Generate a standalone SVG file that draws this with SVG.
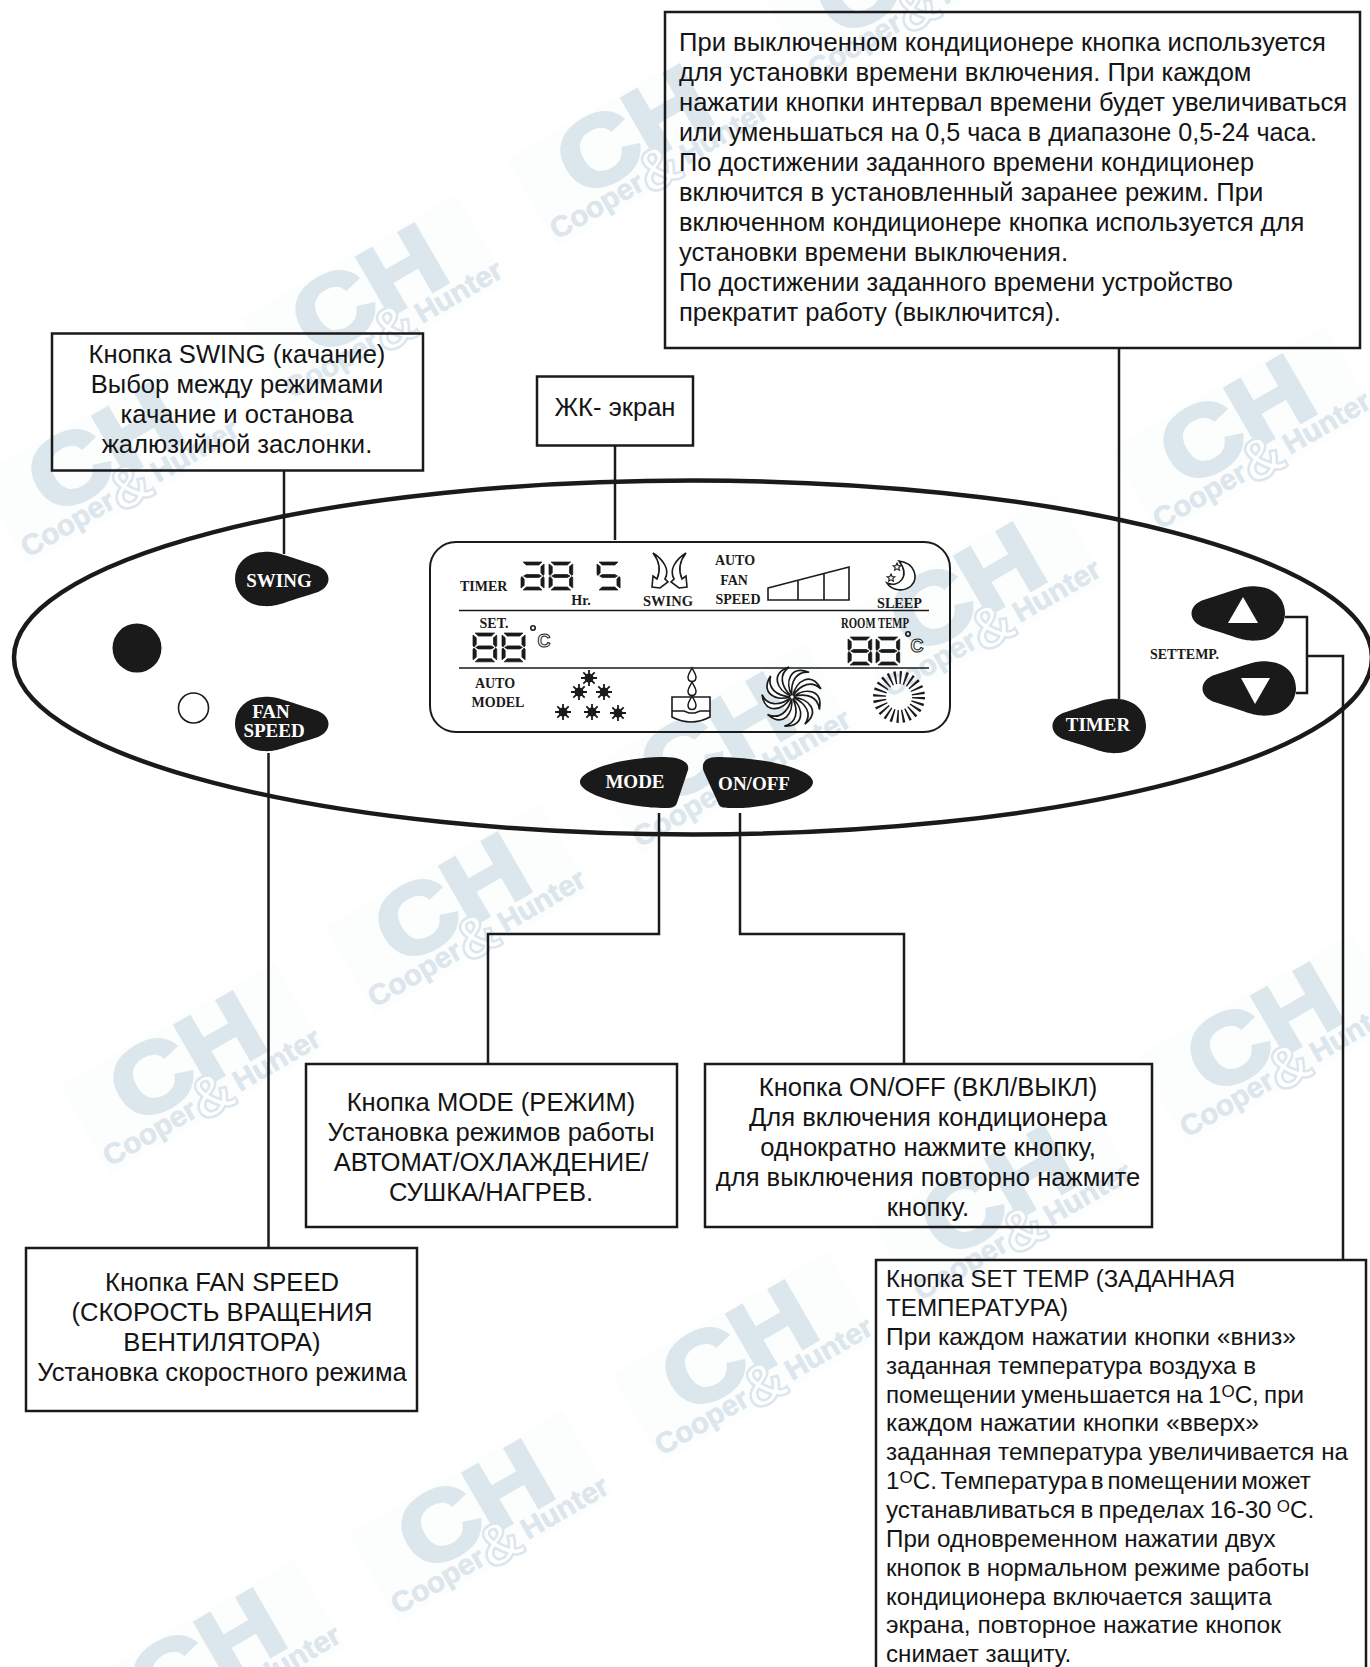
<svg xmlns="http://www.w3.org/2000/svg" width="1370" height="1667" viewBox="0 0 1370 1667">
<style>
.t{font-family:"Liberation Sans",Arial,sans-serif;font-size:25.6px;fill:#141414}
.s{font-size:24.2px}
.c{text-anchor:middle}
.box{fill:none;stroke:#1a1a1a;stroke-width:2.5}
.ln{fill:none;stroke:#1a1a1a;stroke-width:2.5}
.b{font-family:"Liberation Serif","Times New Roman",serif;font-weight:bold;fill:#1a1a1a;font-size:14px}
.w{font-family:"Liberation Serif","Times New Roman",serif;font-weight:bold;fill:#fff;font-size:19px;text-anchor:middle}
.btn{fill:#1a1a1a}
.thin{fill:none;stroke:#1a1a1a;stroke-width:1.6}
.wm{font-family:"Liberation Sans",Arial,sans-serif;font-weight:bold;fill:#dce6ed;stroke:#dce6ed}
</style>
<defs>
<g id="wmk">
<rect x="-3" y="-95" width="248" height="101" fill="#fcfdfd"/>
<text class="wm" x="41" y="-23" font-size="97" stroke-width="4" textLength="159" lengthAdjust="spacingAndGlyphs">CH</text>
<text class="wm" x="0" y="0" font-size="29" stroke-width=".6" textLength="103" lengthAdjust="spacingAndGlyphs">Cooper</text>
<text class="wm" x="103" y="8" font-size="58" style="fill:#fff;stroke:#dce6ed;stroke-width:2.500">&amp;</text>
<text class="wm" x="150" y="0" font-size="29" stroke-width=".6" textLength="96" lengthAdjust="spacingAndGlyphs">Hunter</text>
</g>
<path id="drop" d="M-4 -27C10 -28 15 -24 48 -14C66 -9 66 9 48 14C15 24 10 28 -4 27C-22 26 -32 12 -32 0C-32 -14 -22 -26 -4 -27Z"/>
<path id="sA" d="M2 0H20L17 3H5Z"/>
<path id="sF" d="M0 2L3 4.500V11L1 13.500L0 12.500Z"/>
<path id="sB" d="M22 2L19 4.500V11L21 13.500L22 12.500Z"/>
<path id="sG" d="M2.500 14L5 12.500H17L19.500 14L17 15.500H5Z"/>
<path id="sE" d="M0 15.500L1 14.500L3 17V23.500L0 26Z"/>
<path id="sC" d="M22 15.500L21 14.500L19 17V23.500L22 26Z"/>
<path id="sD" d="M2 28H20L17 25H5Z"/>
<g id="d8"><use href="#sA"/><use href="#sF"/><use href="#sB"/><use href="#sG"/><use href="#sE"/><use href="#sC"/><use href="#sD"/></g>
<g id="da"><use href="#sA"/><use href="#sB"/><use href="#sG"/><use href="#sE"/><use href="#sC"/><use href="#sD"/></g>
<g id="d5"><use href="#sA"/><use href="#sF"/><use href="#sG"/><use href="#sC"/><use href="#sD"/></g>
<g id="snow" stroke="#1a1a1a" stroke-width="1.800"><path d="M-8 0H8M0 -8V8M-5.700 -5.700L5.700 5.700M-5.700 5.700L5.700 -5.700"/><circle r="4.500" fill="#1a1a1a" stroke="none"/></g>
<path id="dropl" d="M0 -7C2 -3 4 -1 4 2C4 5 2 6.500 0 6.500C-2 6.500 -4 5 -4 2C-4 -1 -2 -3 0 -7Z" fill="#fff" stroke="#1a1a1a" stroke-width="1.500"/>
<path id="blade" d="M1 -1.500C4 -16 19 -26 29 -8C20 -17 9 -13 1 -1.500Z" fill="#fff" stroke="#1a1a1a" stroke-width="1.700"/>
<path id="star" d="M0 -4L1.200 -1.300L3.800 -1.200L1.800 .6L2.400 3.200L0 1.800L-2.400 3.200L-1.800 .6L-3.800 -1.200L-1.200 -1.300Z" fill="#fff" stroke="#1a1a1a" stroke-width="1.100"/>
<path id="arrow" d="M653 553C664 560 670 570 665 579L668 582L660 588L652 587L653 576L657 579C661 570 660 562 653 553Z" fill="#fff" stroke="#1a1a1a" stroke-width="1.600"/>
</defs>

<g id="watermarks">
<use href="#wmk" transform="translate(28 558) rotate(-30)"/>
<use href="#wmk" transform="translate(292 399) rotate(-30)"/>
<use href="#wmk" transform="translate(557 240) rotate(-30)"/>
<use href="#wmk" transform="translate(815 80) rotate(-30)"/>
<use href="#wmk" transform="translate(110 1167) rotate(-30)"/>
<use href="#wmk" transform="translate(375 1008) rotate(-30)"/>
<use href="#wmk" transform="translate(640 848) rotate(-30)"/>
<use href="#wmk" transform="translate(890 698) rotate(-30)"/>
<use href="#wmk" transform="translate(1160 530) rotate(-30)"/>
<use href="#wmk" transform="translate(130 1764) rotate(-30)"/>
<use href="#wmk" transform="translate(398 1615) rotate(-30)"/>
<use href="#wmk" transform="translate(662 1456) rotate(-30)"/>
<use href="#wmk" transform="translate(921 1301) rotate(-30)"/>
<use href="#wmk" transform="translate(1187 1138) rotate(-30)"/>
</g>

<g id="connectors">
<path class="ln" d="M284 470V554"/>
<path class="ln" d="M615 445V540"/>
<path class="ln" d="M1119 348V699"/>
<path class="ln" d="M268.500 753V1248"/>
<path class="ln" d="M659 813V934H488V1064"/>
<path class="ln" d="M740 813V934H904V1064"/>
<path class="ln" d="M1285 617H1307V693H1296M1307 656H1343V1259"/>
</g>

<g id="panel"><ellipse cx="693" cy="657.500" rx="679" ry="177" fill="none" stroke="#1a1a1a" stroke-width="4.500"/>
<circle cx="137" cy="648" r="24.500" fill="#1a1a1a"/>
<circle cx="193.500" cy="708" r="15" fill="#fff" stroke="#1a1a1a" stroke-width="1.600"/>
<text class="b" x="1150" y="659" style="word-spacing:-3px">SET TEMP.</text>
</g>

<g id="btn-swing"><use class="btn" href="#drop" transform="translate(267 579)"/><text class="w" x="279" y="587">SWING</text></g>
<g id="btn-fan"><use class="btn" href="#drop" transform="translate(267 724)"/><text class="w" x="271" y="718">FAN</text><text class="w" x="274" y="737">SPEED</text></g>
<g id="btn-timer"><use class="btn" href="#drop" transform="translate(1114 726) scale(-1 1)"/><text class="w" x="1098" y="731">TIMER</text></g>
<g id="btn-up"><use class="btn" href="#drop" transform="translate(1253 613.500) scale(-1 1)"/><path d="M1243 597L1228 623H1258Z" fill="#fff"/></g>
<g id="btn-down"><use class="btn" href="#drop" transform="translate(1264 688.500) scale(-1 1)"/><path d="M1241 678H1270L1255 704Z" fill="#fff"/></g>
<g id="btn-mode"><path class="btn" d="M660 757C680 756 690 762 688 770L677 803C675 808 670 808 665 808C630 808 580 795 580 782C580 770 620 758 660 757Z"/><text class="w" x="635" y="788">MODE</text></g>
<g id="btn-onoff"><path class="btn" d="M720 757C703 756 701 765 704 772L719 805C721 808 725 808 735 808C770 808 813 795 813 782C813 770 770 758 720 757Z"/><text class="w" x="754" y="790">ON/OFF</text></g>

<g id="lcd">
<rect x="430" y="542" width="520" height="190" rx="26" fill="none" stroke="#1a1a1a" stroke-width="2"/>
<path class="thin" d="M459 610.500H929M459 668H929"/>
<g fill="#1a1a1a" stroke="#1a1a1a" stroke-width=".7">
<use href="#da" transform="translate(521 562) scale(1.050 1)"/><use href="#d8" transform="translate(549 562) scale(1.080 1)"/><use href="#d5" transform="translate(597 562) scale(1.050 1)"/>
<use href="#d8" transform="translate(473 633) scale(1.080 1.030)"/><use href="#d8" transform="translate(502 633) scale(1.050 1.030)"/>
<use href="#d8" transform="translate(848 637) scale(1.080 1)"/><use href="#d8" transform="translate(876 637) scale(1.080 1)"/>
</g>
<text class="b" x="460" y="591">TIMER</text>
<text class="b c" x="581" y="605">Hr.</text>
<text class="b" x="643" y="606" textLength="50" lengthAdjust="spacingAndGlyphs">SWING</text>
<text class="b c" x="735" y="565">AUTO</text><text class="b c" x="734" y="585">FAN</text><text class="b c" x="738" y="604">SPEED</text>
<text class="b" x="877" y="608" textLength="45" lengthAdjust="spacingAndGlyphs">SLEEP</text>
<text class="b c" x="494" y="628">SET.</text>
<text class="b" x="841" y="628" textLength="68" lengthAdjust="spacingAndGlyphs">ROOM TEMP</text>
<text class="b c" x="495" y="688">AUTO</text><text class="b c" x="498" y="707">MODEL</text>
<circle cx="533" cy="628" r="2.200" class="thin"/>
<text x="544" y="647" font-family="Liberation Sans,sans-serif" font-size="18" font-weight="bold" text-anchor="middle" fill="#fff" stroke="#1a1a1a" stroke-width="1">C</text>
<circle cx="908" cy="634" r="2.200" class="thin"/>
<text x="917" y="652" font-family="Liberation Sans,sans-serif" font-size="18" font-weight="bold" text-anchor="middle" fill="#fff" stroke="#1a1a1a" stroke-width="1">C</text>
<use href="#arrow"/><use href="#arrow" transform="translate(1339 0) scale(-1 1)"/>
<path class="thin" d="M768 588L849 567V600H768ZM798 580V600M824 573.500V600"/>
<path d="M899 561C915 563 919 578 911 586C904 592 892 591 887 583C898 588 911 577 899 561Z" fill="#fff" stroke="#1a1a1a" stroke-width="1.600"/>
<use href="#star" transform="translate(897 567)"/><use href="#star" transform="translate(891 578)"/>
<use href="#snow" transform="translate(589 678)"/><use href="#snow" transform="translate(579 692)"/><use href="#snow" transform="translate(604 692)"/>
<use href="#snow" transform="translate(563 712)"/><use href="#snow" transform="translate(592 712)"/><use href="#snow" transform="translate(618 713)"/>
<path d="M672 697H710V717Q691 727 672 717Z" fill="#fff" stroke="#1a1a1a" stroke-width="1.600"/>
<path class="thin" d="M672 711H684L689 713H695L700 711H710" stroke-width="1"/>
<use href="#dropl" transform="translate(692 675)"/><use href="#dropl" transform="translate(692 689)"/><use href="#dropl" transform="translate(692 703)"/>
<g transform="translate(792 697)">
<use href="#blade"/><use href="#blade" transform="rotate(40)"/><use href="#blade" transform="rotate(80)"/><use href="#blade" transform="rotate(120)"/><use href="#blade" transform="rotate(160)"/><use href="#blade" transform="rotate(200)"/><use href="#blade" transform="rotate(240)"/><use href="#blade" transform="rotate(280)"/><use href="#blade" transform="rotate(320)"/>
</g>
<circle cx="899" cy="697" r="19.500" fill="none" stroke="#1a1a1a" stroke-width="13" stroke-dasharray="1.900 3.205"/>
</g>

<g id="box-timer">
<rect class="box" x="665" y="12" width="695" height="336"/>
<text class="t" x="679" y="51">При выключенном кондиционере кнопка используется</text>
<text class="t" x="679" y="81">для установки времени включения. При каждом</text>
<text class="t" x="679" y="111">нажатии кнопки интервал времени будет увеличиваться</text>
<text class="t" x="679" y="141" textLength="638" lengthAdjust="spacingAndGlyphs">или уменьшаться на 0,5 часа в диапазоне 0,5-24 часа.</text>
<text class="t" x="679" y="171" textLength="575" lengthAdjust="spacingAndGlyphs">По достижении заданного времени кондиционер</text>
<text class="t" x="679" y="201">включится в установленный заранее режим. При</text>
<text class="t" x="679" y="231">включенном кондиционере кнопка используется для</text>
<text class="t" x="679" y="261">установки времени выключения.</text>
<text class="t" x="679" y="291" textLength="554" lengthAdjust="spacingAndGlyphs">По достижении заданного времени устройство</text>
<text class="t" x="679" y="321">прекратит работу (выключится).</text>
</g>
<g id="box-swing">
<rect class="box" x="52" y="333.500" width="371" height="137"/>
<text class="t c" x="237" y="363">Кнопка SWING (качание)</text>
<text class="t c" x="237" y="393">Выбор между режимами</text>
<text class="t c" x="237" y="423">качание и останова</text>
<text class="t c" x="237" y="453">жалюзийной заслонки.</text>
</g>
<g id="box-lcd">
<rect class="box" x="537" y="376.500" width="156" height="69"/>
<text class="t c" x="615" y="416">ЖК- экран</text>
</g>
<g id="box-mode">
<rect class="box" x="306" y="1064" width="371" height="163"/>
<text class="t c" x="491" y="1111">Кнопка MODE (РЕЖИМ)</text>
<text class="t c" x="491" y="1141">Установка режимов работы</text>
<text class="t c" x="491" y="1171">АВТОМАТ/ОХЛАЖДЕНИЕ/</text>
<text class="t c" x="491" y="1201">СУШКА/НАГРЕВ.</text>
</g>
<g id="box-onoff">
<rect class="box" x="705" y="1064" width="447" height="163"/>
<text class="t c" x="928" y="1096">Кнопка ON/OFF (ВКЛ/ВЫКЛ)</text>
<text class="t c" x="928" y="1126">Для включения кондиционера</text>
<text class="t c" x="928" y="1156">однократно нажмите кнопку,</text>
<text class="t c" x="928" y="1186">для выключения повторно нажмите</text>
<text class="t c" x="928" y="1216">кнопку.</text>
</g>
<g id="box-fan">
<rect class="box" x="26" y="1248" width="391" height="163"/>
<text class="t c" x="222" y="1291">Кнопка FAN SPEED</text>
<text class="t c" x="222" y="1321">(СКОРОСТЬ ВРАЩЕНИЯ</text>
<text class="t c" x="222" y="1351">ВЕНТИЛЯТОРА)</text>
<text class="t c" x="222" y="1381">Установка скоростного режима</text>
</g>
<g id="box-settemp">
<path class="box" d="M876 1670V1260H1366V1670"/>
<text class="t s" x="886" y="1287" textLength="349" lengthAdjust="spacingAndGlyphs">Кнопка SET TEMP (ЗАДАННАЯ</text>
<text class="t s" x="886" y="1316">ТЕМПЕРАТУРА)</text>
<text class="t s" x="886" y="1345" textLength="410" lengthAdjust="spacingAndGlyphs">При каждом нажатии кнопки «вниз»</text>
<text class="t s" x="886" y="1373.500">заданная температура воздуха в</text>
<text class="t s" x="886" y="1402.500" style="word-spacing:-1.500px">помещении уменьшается на 1<tspan font-size="17" dy="-6">О</tspan><tspan dy="6">С, при</tspan></text>
<text class="t s" x="886" y="1431" textLength="373" lengthAdjust="spacingAndGlyphs">каждом нажатии кнопки «вверх»</text>
<text class="t s" x="886" y="1460">заданная температура увеличивается на</text>
<text class="t s" x="886" y="1489">1<tspan font-size="17" dy="-6">О</tspan><tspan dy="6" style="word-spacing:-3px">С. Температура в помещении может</tspan></text>
<text class="t s" x="886" y="1518" style="word-spacing:-1.500px">устанавливаться в пределах 16-30 <tspan font-size="17" dy="-6">О</tspan><tspan dy="6">С.</tspan></text>
<text class="t s" x="886" y="1546.500">При одновременном нажатии двух</text>
<text class="t s" x="886" y="1575.500">кнопок в нормальном режиме работы</text>
<text class="t s" x="886" y="1604.500">кондиционера включается защита</text>
<text class="t s" x="886" y="1633" textLength="395" lengthAdjust="spacingAndGlyphs">экрана, повторное нажатие кнопок</text>
<text class="t s" x="886" y="1662">снимает защиту.</text>
</g>
</svg>
